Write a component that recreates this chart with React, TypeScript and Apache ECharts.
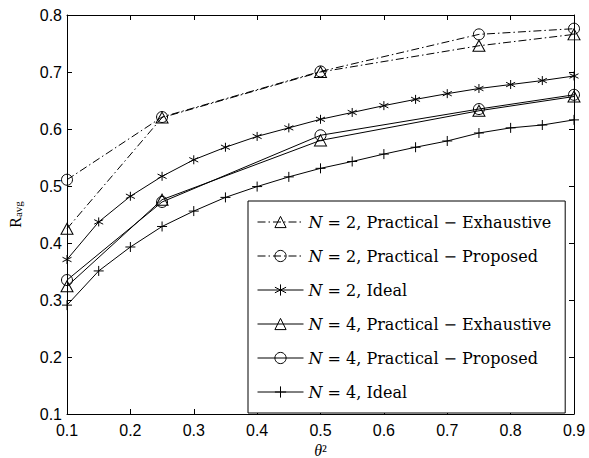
import React, { useEffect, useRef } from "react";
import * as echarts from "echarts";

const xCoarse = [0.1, 0.25, 0.5, 0.75, 0.9];
const xFine = [0.1, 0.15, 0.2, 0.25, 0.3, 0.35, 0.4, 0.45, 0.5, 0.55, 0.6, 0.65, 0.7, 0.75, 0.8, 0.85, 0.9];

const n2Exhaustive = [0.425, 0.62, 0.7, 0.746, 0.766];
const n2Proposed = [0.511, 0.621, 0.701, 0.766, 0.776];
const n2Ideal = [0.371, 0.437, 0.482, 0.517, 0.546, 0.568, 0.587, 0.602, 0.617, 0.629, 0.641, 0.652, 0.662, 0.671, 0.678, 0.685, 0.693];
const n4Exhaustive = [0.324, 0.476, 0.58, 0.632, 0.657];
const n4Proposed = [0.335, 0.472, 0.589, 0.635, 0.66];
const n4Ideal = [0.291, 0.351, 0.393, 0.429, 0.456, 0.48, 0.499, 0.516, 0.531, 0.543, 0.556, 0.568, 0.579, 0.593, 0.602, 0.607, 0.616];

const xTicks = { min: 0.1, max: 0.9, interval: 0.1 };
const yTicks = { min: 0.1, max: 0.8, interval: 0.1 };

const names = [
  "N = 2, Practical − Exhaustive",
  "N = 2, Practical − Proposed",
  "N = 2, Ideal",
  "N = 4, Practical − Exhaustive",
  "N = 4, Practical − Proposed",
  "N = 4, Ideal",
];

const STAR = "path://M0,-5L0,5M-4.5,-2.5L4.5,2.5M-4.5,2.5L4.5,-2.5";
const PLUS = "path://M0,-5L0,5M-5,0L5,0";
const SERIF = "'Liberation Serif', 'DejaVu Serif', serif";
const LSERIF = "'DejaVu Serif', serif";
const SANS = "'Liberation Sans', Arial, sans-serif";

function pairs(xs: number[], ys: number[]) {
  return xs.map((x, i) => [x, ys[i]]);
}

export default function App() {
  const ref = useRef<HTMLDivElement>(null);
  useEffect(() => {
    if (!ref.current) return;
    const chart = echarts.init(ref.current, undefined, { renderer: "svg" });
    const dashDot = [8, 3, 1.5, 3];
    const mk = (name: string, data: number[][], symbol: string, size: any, dashed: boolean) => ({
      type: "line",
      name,
      data,
      symbol,
      symbolSize: size,
      showAllSymbol: true,
      color: "#000",
      lineStyle: { color: "#000", width: 1, type: dashed ? dashDot : "solid" },
      itemStyle: { color: "rgba(0,0,0,0)", borderColor: "#000", borderWidth: 1 },
      emphasis: { disabled: true },
    });
    const axisCommon = {
      type: "value",
      splitLine: { show: false },
      axisLine: { show: true, onZero: false, lineStyle: { color: "#000", width: 1 } },
      axisTick: { show: true, inside: true, length: 5, lineStyle: { color: "#000" } },
    };
    chart.setOption({
      animation: false,
      backgroundColor: "#fff",
      grid: { left: 67, right: 15, top: 15, bottom: 44, outerBoundsMode: "none", containLabel: false },
      xAxis: [
        {
          ...axisCommon,
          ...xTicks,
          position: "bottom",
          axisLabel: { color: "#000", fontFamily: SANS, fontSize: 16, margin: 8, formatter: (v: number) => v.toFixed(1) },
          name: "{t|θ}{s|²}",
          nameLocation: "middle",
          nameGap: 27,
          nameTextStyle: {
            rich: {
              t: { fontFamily: SERIF, fontStyle: "italic", fontSize: 16, color: "#000" },
              s: { fontFamily: SERIF, fontSize: 16, color: "#000" },
            },
          },
        },
        { ...axisCommon, ...xTicks, position: "top", axisLabel: { show: false } },
      ],
      yAxis: [
        {
          ...axisCommon,
          ...yTicks,
          position: "left",
          axisLabel: { color: "#000", fontFamily: SANS, fontSize: 16, margin: 5, formatter: (v: number) => v.toFixed(1) },
          name: "{r|R}{s|avg}",
          nameLocation: "middle",
          nameRotate: 90,
          nameGap: 44,
          nameTextStyle: {
            rich: {
              r: { fontFamily: SERIF, fontSize: 16, color: "#000" },
              s: { fontFamily: SERIF, fontSize: 11, color: "#000", verticalAlign: "bottom", padding: [5, 0, 0, 0] },
            },
          },
        },
        { ...axisCommon, ...yTicks, position: "right", axisLabel: { show: false } },
      ],
      legend: {
        left: 248,
        top: 201,
        orient: "vertical",
        backgroundColor: "#fff",
        borderColor: "#000",
        borderWidth: 1,
        borderRadius: 0,
        padding: [12, 14, 12, 9],
        itemGap: 16,
        itemWidth: 46,
        itemHeight: 14,
        data: names,
        lineStyle: { width: 1 },
        itemStyle: { borderWidth: 1 },
        formatter: (n: string) => n.replace(/^N/, "{i|N}"),
        textStyle: {
          fontFamily: LSERIF,
          fontSize: 16,
          lineHeight: 18,
          color: "#000",
          rich: {
            i: { fontFamily: LSERIF, fontStyle: "italic", fontSize: 16, lineHeight: 18, color: "#000" },
          },
        },
      },
      series: [
        mk(names[0], pairs(xCoarse, n2Exhaustive), "triangle", [12, 11], true),
        mk(names[1], pairs(xCoarse, n2Proposed), "circle", 11, true),
        mk(names[2], pairs(xFine, n2Ideal), STAR, 9, false),
        mk(names[3], pairs(xCoarse, n4Exhaustive), "triangle", [12, 11], false),
        mk(names[4], pairs(xCoarse, n4Proposed), "circle", 11, false),
        mk(names[5], pairs(xFine, n4Ideal), PLUS, 10, false),
      ],
    });
    return () => chart.dispose();
  }, []);
  return <div ref={ref} style={{ position: "fixed", left: 0, top: 0, width: 589, height: 458 }} />;
}
